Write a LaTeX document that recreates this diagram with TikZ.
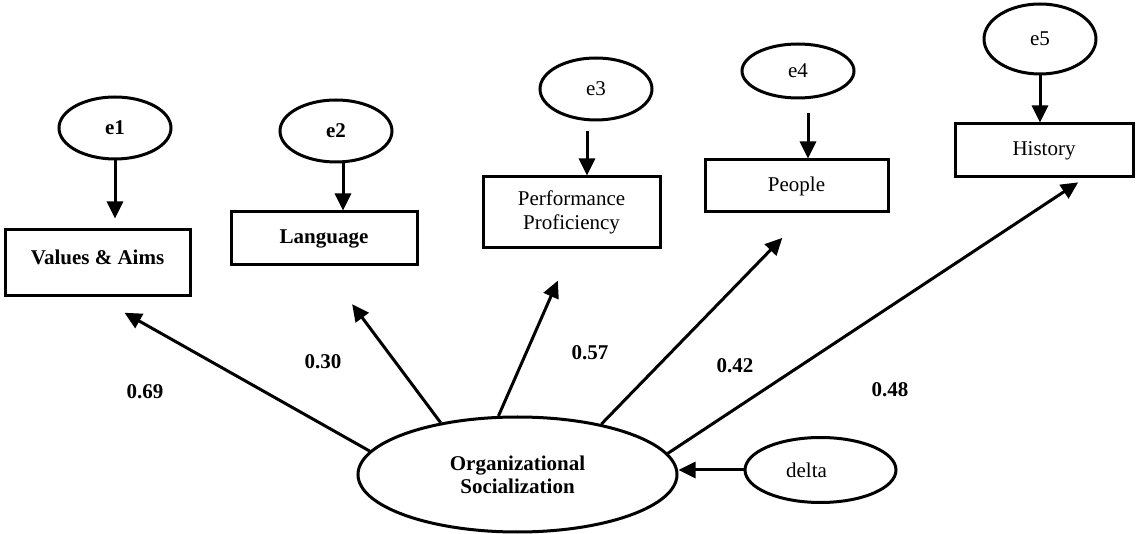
\documentclass[tikz,border=0pt]{standalone}
\usepackage{fontspec}
\setmainfont{Liberation Serif}
\usetikzlibrary{shapes.geometric,arrows.meta}

\begin{document}
\begin{tikzpicture}[x=1pt,y=-1pt,
    every node/.style={font=\fontsize{21}{23}\selectfont},
    bf/.style={font=\fontsize{21}{23}\selectfont\bfseries},
    obs/.style={draw,rectangle,line width=3pt,inner sep=0pt,align=center},
    err/.style={draw,ellipse,line width=3pt,inner sep=0pt,align=center,
                minimum width=112pt,minimum height=62pt},
    arr/.style={line width=3pt,-{Triangle[width=16pt,length=17pt]}}
    ]
	\useasboundingbox (0,0) rectangle (1144,534);
	% indicators
	\node[obs,bf,minimum width=185pt,minimum height=66pt] (va) at (97.5,263) {Values \& Aims\\[-12pt]};
	\node[obs,bf,minimum width=186pt,minimum height=53pt] (lang) at (324,238.5) {Language};
	\node[obs,minimum width=177pt,minimum height=71pt] (pp) at (571.5,212.5) {Performance\\[1pt]Proficiency};
	\node[obs,minimum width=183pt,minimum height=52pt] (ppl) at (796.5,186) {People};
	\node[obs,minimum width=178pt,minimum height=53pt] (hist) at (1044,150.5) {History};
	% error terms
	\node[err,bf] (e1) at (115,128) {e1};
	\node[err,bf] (e2) at (336,131) {e2};
	\node[err] (e3) at (596,89) {e3};
	\node[err,minimum height=54pt] (e4) at (798,71) {e4};
	\node[err,minimum height=70pt] (e5) at (1040,39) {e5};
	% latent factor
	\node[err,bf,minimum width=319pt,minimum height=115pt] (os) at (517.5,474.5) {Organizational\\Socialization};
	\node[err,minimum width=151pt,minimum height=65pt] (delta) at (820.5,470) {delta\hspace*{28pt}};
	% loadings
	\node[bf] (l1) at (145,392) {0.69};
	\node[bf] (l2) at (323,362) {0.30};
	\node[bf] (l3) at (590,353) {0.57};
	\node[bf] (l4) at (735,366) {0.42};
	\node[bf] (l5) at (890,390) {0.48};

	\draw[arr,shorten >=10pt] (e1) -- (e1 |- va.north);
	\draw[arr] ([xshift=7pt]e2.south) -- ([xshift=7pt]e2.south |- lang.north);
	\draw[arr,shorten <=10pt] ([xshift=-9pt]e3.south) -- ([xshift=-9pt]e3.south |- pp.north);
	\draw[arr,shorten <=14pt] ([xshift=10pt]e4.south) -- ([xshift=10pt]e4.south |- ppl.north);
	\draw[arr] (e5) -- (e5 |- hist.north);

	\draw[arr,shorten >=31pt] (os.171) -- (va.south);
	\draw[arr,shorten >=47pt] (os.146) -- (lang.south);
	\draw[arr,shorten >=34pt] (os.108) -- (pp.south);
	\draw[arr,shorten >=34pt] (os.31) -- (ppl.-71);
	\draw[arr,shorten >=7pt] (os.8) -- (hist.-35);
	\draw[arr] (delta.west) -- (delta.west -| os.east);
\end{tikzpicture}
\end{document}
